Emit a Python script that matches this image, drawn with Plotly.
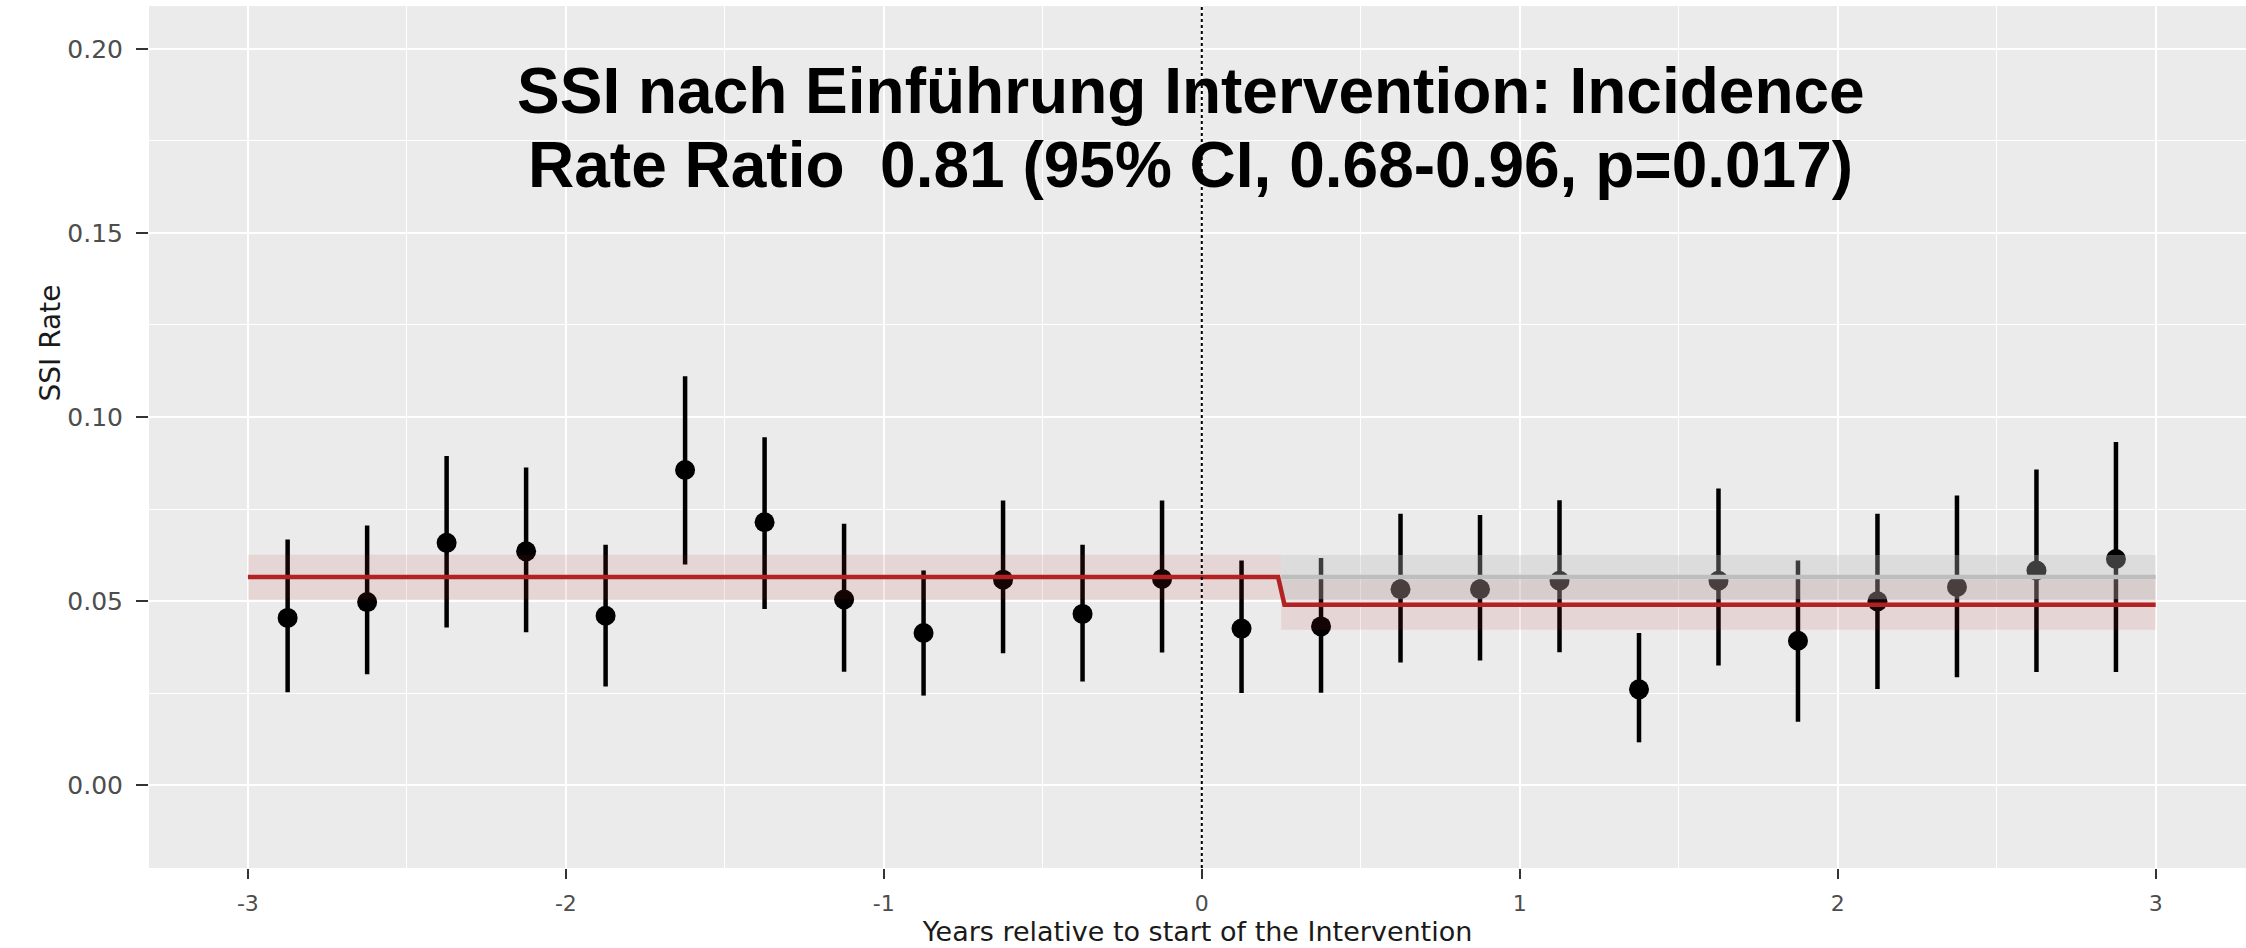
import plotly.graph_objects as go

# quarterly SSI rates with 95% CI, years relative to intervention start
period_x = [-2.875, -2.625, -2.375, -2.125, -1.875, -1.625, -1.375, -1.125,
            -0.875, -0.625, -0.375, -0.125, 0.125, 0.375, 0.625, 0.875,
            1.125, 1.375, 1.625, 1.875, 2.125, 2.375, 2.625, 2.875]
ssi_rate = [0.0454, 0.0497, 0.0658, 0.0635, 0.0460, 0.0856, 0.0714, 0.0504,
            0.0413, 0.0558, 0.0465, 0.0560, 0.0425, 0.0431, 0.0532, 0.0532,
            0.0555, 0.0260, 0.0555, 0.0392, 0.0499, 0.0538, 0.0583, 0.0614]
ci_low = [0.0252, 0.0301, 0.0428, 0.0415, 0.0268, 0.0599, 0.0478, 0.0308,
          0.0243, 0.0358, 0.0281, 0.0360, 0.0250, 0.0251, 0.0333, 0.0338,
          0.0361, 0.0116, 0.0325, 0.0172, 0.0261, 0.0293, 0.0307, 0.0307]
ci_high = [0.0667, 0.0705, 0.0894, 0.0863, 0.0653, 0.1111, 0.0945, 0.0710,
           0.0583, 0.0773, 0.0653, 0.0773, 0.0610, 0.0617, 0.0737, 0.0734,
           0.0774, 0.0413, 0.0806, 0.0610, 0.0737, 0.0787, 0.0857, 0.0932]

# fitted model (red) with step at start of intervention
fit_x = [-3.0, 0.24, 0.26, 3.0]
fit_rate = [0.0565, 0.0565, 0.0490, 0.0490]
fit_band_x = [-3.0, 0.25, 0.25, 3.0]
fit_band_low = [0.0504, 0.0504, 0.0422, 0.0422]
fit_band_high = [0.0626, 0.0626, 0.0558, 0.0558]

# counterfactual without intervention (grey)
cf_x = [0.25, 3.0]
cf_rate = [0.0565, 0.0565]
cf_low = [0.0505, 0.0505]
cf_high = [0.0625, 0.0625]

x_tick_vals = [-3, -2, -1, 0, 1, 2, 3]
x_tick_text = ["-3", "-2", "-1", "0", "1", "2", "3"]
y_tick_vals = [0.00, 0.05, 0.10, 0.15, 0.20]
y_tick_text = ["0.00", "0.05", "0.10", "0.15", "0.20"]

title_lines = ["SSI nach Einführung Intervention: Incidence",
               "Rate Ratio  0.81 (95% CI, 0.68-0.96, p=0.017)"]

fig = go.Figure()

# point estimates with CI
fig.add_trace(go.Scatter(
    x=period_x, y=ssi_rate, mode="markers",
    marker=dict(color="black", size=20),
    error_y=dict(type="data", symmetric=False,
                 array=[h - y for h, y in zip(ci_high, ssi_rate)],
                 arrayminus=[y - l for l, y in zip(ci_low, ssi_rate)],
                 color="black", thickness=4.5, width=0),
    showlegend=False,
))

# ribbons drawn over the points, like the ggplot layers
fig.add_trace(go.Scatter(
    x=fit_band_x + fit_band_x[::-1], y=fit_band_low + fit_band_high[::-1],
    fill="toself", fillcolor="rgba(178,34,34,0.11)", line=dict(width=0),
    mode="lines", hoverinfo="skip", showlegend=False,
))
fig.add_trace(go.Scatter(
    x=cf_x + cf_x[::-1], y=cf_low + cf_high[::-1],
    fill="toself", fillcolor="rgba(190,190,190,0.32)", line=dict(width=0),
    mode="lines", hoverinfo="skip", showlegend=False,
))
fig.add_trace(go.Scatter(
    x=cf_x, y=cf_rate, mode="lines",
    line=dict(color="#BEBEBE", width=4.5), showlegend=False,
))
fig.add_trace(go.Scatter(
    x=fit_x, y=fit_rate, mode="lines",
    line=dict(color="#B22222", width=4.5), showlegend=False,
))

fig.add_vline(x=0, line=dict(color="black", width=2, dash="dot"))

fig.update_xaxes(
    range=[-3.311, 3.284],
    tickvals=x_tick_vals, ticktext=x_tick_text,
    tickfont=dict(family="DejaVu Sans", size=22, color="#4D4D4D"),
    ticks="outside", ticklen=10, tickwidth=2, tickcolor="#333333",
    ticklabelstandoff=6,
    showgrid=True, gridcolor="white", gridwidth=2.2,
    minor=dict(dtick=0.5, tick0=-3, showgrid=True, gridcolor="white", gridwidth=1.1),
    zeroline=False, showline=False,
    title=dict(text="Years relative to start of the Intervention",
               font=dict(family="DejaVu Sans", size=27, color="#1A1A1A"),
               standoff=4),
)
fig.update_yaxes(
    range=[-0.02255, 0.21168],
    tickvals=y_tick_vals, ticktext=y_tick_text,
    tickfont=dict(family="DejaVu Sans", size=25, color="#4D4D4D"),
    ticks="outside", ticklen=12, tickwidth=2, tickcolor="#333333",
    ticklabelstandoff=8,
    showgrid=True, gridcolor="white", gridwidth=2.2,
    minor=dict(dtick=0.025, tick0=0, showgrid=True, gridcolor="white", gridwidth=1.1),
    zeroline=False, showline=False,
)

# y axis title sits above the panel centre in the reference, so place it by hand
fig.add_annotation(
    text="SSI Rate", textangle=-90, showarrow=False,
    xref="paper", yref="paper", x=-0.0558, y=0.609,
    font=dict(family="DejaVu Sans", size=28, color="#1A1A1A"),
)

# two-line title overlaid on the panel
for line, ypos in zip(title_lines, [0.9014, 0.815]):
    fig.add_annotation(
        text=f"<b>{line}</b>", showarrow=False,
        xref="paper", yref="paper", x=0.4969, y=ypos,
        xanchor="center", yanchor="middle",
        font=dict(family="Liberation Sans", size=64, color="black"),
    )

fig.update_layout(
    width=2246, height=948,
    margin=dict(l=149, r=0, t=6, b=80),
    plot_bgcolor="#EBEBEB", paper_bgcolor="white",
    showlegend=False,
)

fig.write_html("out.html", config={"displayModeBar": False},
               post_script="document.body.style.margin='0';")
